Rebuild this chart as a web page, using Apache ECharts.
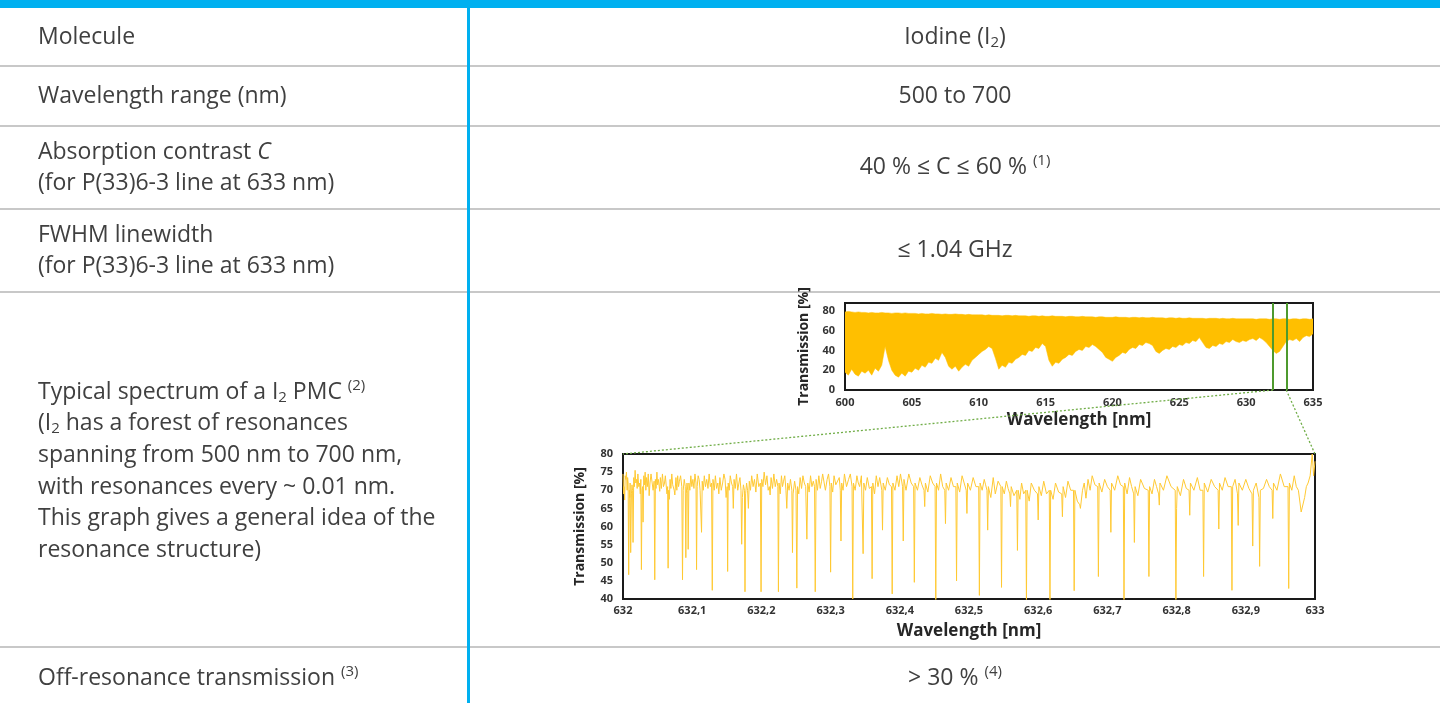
<!DOCTYPE html>
<html><head><meta charset="utf-8">
<script src="https://cdn.jsdelivr.net/npm/echarts@6/dist/echarts.min.js"></script>
<style>html,body{margin:0;padding:0;background:#fff}#c{width:1440px;height:703px}</style>
</head><body><div id="c"></div>
<script>
// ---------- DATA ----------
// Overview spectrum 600-635 nm: lower and upper envelope of the dense resonance forest (%)
const overviewWavelengths = [
  600,600.25,600.5,600.75,601,601.25,601.5,601.75,602,602.25,
  602.5,602.75,603,603.25,603.5,603.75,604,604.25,604.5,604.75,
  605,605.25,605.5,605.75,606,606.25,606.5,606.75,607,607.25,
  607.5,607.75,608,608.25,608.5,608.75,609,609.25,609.5,609.75,
  610,610.25,610.5,610.75,611,611.25,611.5,611.75,612,612.25,
  612.5,612.75,613,613.25,613.5,613.75,614,614.25,614.5,614.75,
  615,615.25,615.5,615.75,616,616.25,616.5,616.75,617,617.25,
  617.5,617.75,618,618.25,618.5,618.75,619,619.25,619.5,619.75,
  620,620.25,620.5,620.75,621,621.25,621.5,621.75,622,622.25,
  622.5,622.75,623,623.25,623.5,623.75,624,624.25,624.5,624.75,
  625,625.25,625.5,625.75,626,626.25,626.5,626.75,627,627.25,
  627.5,627.75,628,628.25,628.5,628.75,629,629.25,629.5,629.75,
  630,630.25,630.5,630.75,631,631.25,631.5,631.75,632,632.25,
  632.5,632.75,633,633.25,633.5,633.75,634,634.25,634.5,634.75,
  635];
const overviewLower = [
  18,15,21,16,14,19,17,20,15,22,
  19,25,44,30,20,15,13,17,14,19,
  18,22,20,25,23,28,27,32,30,38,
  33,24,21,24,19,23,26,24,30,33,
  36,39,41,44,42,32,21,25,23,28,
  27,31,33,36,35,40,39,43,42,47,
  44,30,24,28,27,31,33,36,35,39,
  41,40,44,43,46,44,41,38,33,31,
  29,33,35,38,37,41,43,42,46,45,
  48,47,45,39,37,40,42,41,44,43,
  46,45,48,47,50,49,53,48,43,42,
  45,44,47,46,49,48,51,49,48,50,
  49,51,52,50,53,51,48,44,40,37,
  39,44,49,51,50,52,49,53,55,54,
  57];
const overviewUpper = [
  79,79.5,79,78.5,79,78.5,78.5,78,78.5,78,
  78,78.5,78,78,77.5,78,78,77.5,78,77.5,
  77.5,77.5,77,77.5,77,77,77.5,77,77,76.5,
  77,76.5,76.5,77,76.5,76.5,76,76.5,76,76,
  76,76,75.5,76,75.5,75.5,75.5,75,75.5,75.5,
  75,75.5,75,75,75,74.5,75,75,74.5,75,
  74.5,74.5,75,74.5,74.5,74.5,74,74.5,74.5,74,
  74,74.5,74,74,74,73.5,74,74,73.5,73.5,
  73.5,74,73.5,73.5,73.5,73,73.5,73.5,73,73.5,
  73,73,73.5,73,73,73,72.5,73,73,72.5,
  73,72.5,72.5,73,72.5,72.5,72.5,72.5,72,72.5,
  72.5,72.5,72,72.5,72,72,72.5,72,72,72,
  72,72,72,71.5,72,72,72,71.5,72,72,
  71.5,72,72,71.5,72,72,71.5,72,72,71.5,
  72];
// zoomed window marked on overview (nm)
const zoomWindow = [632, 633];
// Detailed transmission 632-633 nm: [wavelength nm, transmission %]
const zoomSpectrum = [
[632.0000,74.5],[632.0008,69],[632.0015,71],[632.0024,67.3],[632.0032,74],[632.0040,73],[632.0050,75],[632.0060,70],[632.0067,73.5],[632.0074,72],[632.0082,46.7],[632.0092,70],[632.0098,68],[632.0103,72],[632.0111,52.8],[632.0122,69],[632.0130,71.5],[632.0138,70],[632.0145,55.6],[632.0155,73.5],[632.0165,71],[632.0175,75.5],[632.0185,72],[632.0195,73],[632.0205,70.5],[632.0215,74.5],[632.0228,71],[632.0240,72],[632.0250,69],[632.0258,73],[632.0266,48.1],[632.0275,70],[632.0283,71],[632.0290,61.2],[632.0300,74],[632.0310,71.5],[632.0320,75],[632.0330,70],[632.0340,73.5],[632.0352,71],[632.0365,74.5],[632.0378,68.5],[632.0390,72],[632.0405,74.5],[632.0420,74],[632.0435,70],[632.0450,72.5],[632.0459,45.3],[632.0468,73],[632.0478,70.5],[632.0490,75],[632.0500,71.5],[632.0510,73],[632.0524,71],[632.0531,69.7],[632.0540,73.5],[632.0555,70.5],[632.0570,74.5],[632.0585,71],[632.0600,72],[632.0612,74],[632.0625,73.5],[632.0635,69],[632.0645,71],[632.0652,48.5],[632.0660,70],[632.0670,67.5],[632.0680,73],[632.0692,70.5],[632.0705,74.5],[632.0718,71.5],[632.0730,72],[632.0740,70],[632.0749,68.7],[632.0765,73.5],[632.0778,70],[632.0790,74],[632.0803,71],[632.0815,72.5],[632.0832,74],[632.0850,71],[632.0860,45.3],[632.0870,70],[632.0885,73],[632.0900,71],[632.0908,51.4],[632.0915,69],[632.0925,72],[632.0935,70],[632.0942,53.7],[632.0952,72],[632.0966,70],[632.0980,74],[632.0995,71],[632.1010,73],[632.1025,70.5],[632.1040,74.5],[632.1055,72],[632.1063,48.1],[632.1072,71],[632.1086,74],[632.1100,73],[632.1114,70],[632.1128,70],[632.1135,58.4],[632.1145,72.5],[632.1160,70],[632.1175,74],[632.1192,71],[632.1210,73],[632.1228,70.5],[632.1245,74.5],[632.1262,71],[632.1280,72],[632.1290,42.4],[632.1300,73],[632.1318,70],[632.1335,74],[632.1352,70.5],[632.1370,72],[632.1385,69],[632.1400,73.5],[632.1420,70],[632.1440,72],[632.1458,74.5],[632.1475,73],[632.1490,68],[632.1505,71],[632.1512,47.6],[632.1520,72],[632.1535,70],[632.1550,74],[632.1568,72],[632.1585,71],[632.1594,65],[632.1605,73],[632.1622,70.5],[632.1640,74.5],[632.1658,70],[632.1675,72],[632.1690,73.5],[632.1705,70],[632.1715,55.1],[632.1725,68],[632.1740,71.5],[632.1755,70],[632.1763,42],[632.1772,69],[632.1786,72],[632.1800,70],[632.1812,65],[632.1825,72.5],[632.1842,70],[632.1860,74],[632.1880,71],[632.1900,73],[632.1920,69.5],[632.1940,74.5],[632.1962,71],[632.1985,72],[632.1995,42],[632.2005,73],[632.2022,71],[632.2040,75],[632.2060,71.5],[632.2080,74],[632.2098,70],[632.2115,71],[632.2126,68.7],[632.2140,73.5],[632.2160,70.5],[632.2180,74.5],[632.2200,71],[632.2220,73],[632.2238,71],[632.2246,42],[632.2255,72],[632.2272,69],[632.2290,74],[632.2305,71],[632.2320,72.5],[632.2338,74],[632.2355,70],[632.2367,65],[632.2380,72],[632.2400,70],[632.2420,73],[632.2440,70],[632.2449,52.8],[632.2458,69],[632.2480,72.5],[632.2500,70],[632.2512,43],[632.2522,71],[632.2540,69],[632.2560,73.5],[632.2580,70.5],[632.2600,74],[632.2620,72],[632.2640,71],[632.2657,56.5],[632.2670,72],[632.2690,69.5],[632.2710,74],[632.2730,71],[632.2750,72.5],[632.2768,71],[632.2778,42],[632.2790,73],[632.2810,70],[632.2830,74],[632.2850,70.5],[632.2870,72.5],[632.2885,74.5],[632.2900,74],[632.2925,70],[632.2950,73],[632.2970,74.5],[632.2990,71],[632.3000,47.4],[632.3010,72],[632.3030,69.5],[632.3050,74],[632.3075,71.5],[632.3100,71],[632.3125,73.5],[632.3140,70],[632.3150,56],[632.3160,72],[632.3180,70],[632.3200,74.5],[632.3230,71],[632.3260,73],[632.3285,74.5],[632.3310,71],[632.3320,40],[632.3330,72],[632.3355,70],[632.3380,74],[632.3400,72],[632.3420,71],[632.3445,74],[632.3470,52.5],[632.3480,72],[632.3505,70],[632.3530,73.5],[632.3560,70.5],[632.3590,71],[632.3600,45.6],[632.3610,72],[632.3635,69],[632.3660,74],[632.3685,71],[632.3710,73.5],[632.3740,70],[632.3750,59],[632.3760,72],[632.3790,70],[632.3820,73.5],[632.3850,71.5],[632.3880,71],[632.3890,41.4],[632.3900,72],[632.3930,70],[632.3960,74],[632.3985,71],[632.4010,74.5],[632.4040,71],[632.4050,56],[632.4060,73],[632.4090,70],[632.4130,74.5],[632.4165,72],[632.4200,71],[632.4210,44.6],[632.4220,72],[632.4255,70],[632.4290,73.5],[632.4320,71.5],[632.4350,70],[632.4360,65.5],[632.4370,72],[632.4405,69.5],[632.4440,74],[632.4475,72],[632.4510,71],[632.4520,39],[632.4530,72],[632.4560,70],[632.4590,74.5],[632.4620,71],[632.4650,70],[632.4660,60.8],[632.4670,72],[632.4705,70],[632.4740,73.5],[632.4775,71],[632.4810,71],[632.4820,45],[632.4830,72],[632.4865,69.5],[632.4900,74],[632.4930,72],[632.4960,70],[632.4970,63.6],[632.4980,72],[632.5020,70],[632.5060,73.5],[632.5100,71],[632.5140,71],[632.5150,41],[632.5160,72],[632.5190,70],[632.5220,73],[632.5240,71.5],[632.5260,70],[632.5270,59],[632.5280,71],[632.5315,68],[632.5350,73.5],[632.5380,69],[632.5420,72.5],[632.5460,71],[632.5470,43.2],[632.5480,71],[632.5510,69],[632.5540,72.5],[632.5565,70.5],[632.5590,69],[632.5600,65.5],[632.5610,71],[632.5650,68.5],[632.5690,70],[632.5700,53.4],[632.5710,70],[632.5735,67.5],[632.5760,72],[632.5790,69],[632.5820,70],[632.5830,39],[632.5840,70],[632.5870,67],[632.5900,72],[632.5945,70],[632.5990,69],[632.6000,61.8],[632.6010,71],[632.6045,68.5],[632.6080,72.5],[632.6120,69],[632.6160,70],[632.6170,39],[632.6180,70],[632.6215,67.5],[632.6250,72],[632.6295,69.5],[632.6340,69],[632.6350,62.7],[632.6360,71],[632.6395,68],[632.6430,72.5],[632.6470,70],[632.6510,70],[632.6520,42.3],[632.6530,70],[632.6565,67],[632.6600,66],[632.6610,65],[632.6640,70],[632.6665,72],[632.6690,67.8],[632.6720,73],[632.6750,70],[632.6780,74],[632.6820,71.5],[632.6860,71],[632.6870,46.2],[632.6880,72],[632.6920,69.5],[632.6960,73],[632.7000,71],[632.7040,70],[632.7050,58.4],[632.7060,72],[632.7105,70],[632.7150,74],[632.7190,71.5],[632.7230,71],[632.7240,39],[632.7250,72],[632.7285,69],[632.7320,73.5],[632.7350,71],[632.7380,69],[632.7390,55.6],[632.7400,71],[632.7440,68.5],[632.7480,73],[632.7535,70.5],[632.7590,70],[632.7600,46.2],[632.7610,71],[632.7645,69],[632.7680,73],[632.7710,71],[632.7740,69],[632.7750,65.9],[632.7760,72],[632.7810,70],[632.7860,74],[632.7920,71],[632.7980,70],[632.7990,39],[632.8000,65],[632.8010,71],[632.8055,68.5],[632.8100,73],[632.8140,70.5],[632.8180,70],[632.8190,63.1],[632.8200,72],[632.8250,70],[632.8300,73.5],[632.8340,70],[632.8380,70],[632.8390,46.2],[632.8400,72],[632.8450,69.5],[632.8500,73],[632.8550,71],[632.8600,70],[632.8610,59.3],[632.8620,72],[632.8660,70],[632.8700,73.5],[632.8745,71],[632.8790,71],[632.8800,42.4],[632.8810,71],[632.8845,73],[632.8880,69],[632.8890,60.3],[632.8900,72],[632.8950,70],[632.9000,73],[632.9045,70.5],[632.9090,69],[632.9100,54.6],[632.9110,70],[632.9150,72],[632.9190,68],[632.9200,49],[632.9210,70],[632.9255,70.5],[632.9300,73],[632.9340,71],[632.9380,70],[632.9390,62.2],[632.9400,72],[632.9450,70],[632.9500,74.5],[632.9555,71],[632.9610,71],[632.9620,42.9],[632.9630,72],[632.9665,70],[632.9700,74],[632.9730,71],[632.9760,70],[632.9800,64],[632.9810,63.6],[632.9850,68],[632.9875,71],[632.9900,72],[632.9930,74],[632.9960,80],[632.9980,74],[633.0000,78]];

// ---------- RENDER ----------
const FONT = '"Open Sans", "DejaVu Sans", sans-serif';
const TXT = '#404040';
const AX = '#333333';
const BLUE = '#00B0F0';
const FS = 23;

const chart = echarts.init(document.getElementById('c'), null, {renderer: 'canvas'});

const axLabel = {fontSize: 11, fontWeight: 'bold', color: AX, fontFamily: FONT};
const xName = {fontSize: 17, fontWeight: 'bold', color: '#262626', fontFamily: FONT};
const yName = {fontSize: 14, fontWeight: 'bold', color: '#262626', fontFamily: FONT};
const comma = v => String(+(+v).toFixed(1)).replace('.', ',');

chart.setOption({
  animation: false,
  backgroundColor: '#ffffff',
  grid: [
    {left: 845, top: 303, width: 468, height: 87, show: true, borderColor: '#1a1a1a', borderWidth: 2, backgroundColor: 'transparent'},
    {left: 623, top: 454, width: 692, height: 145, show: true, borderColor: '#1a1a1a', borderWidth: 2, backgroundColor: 'transparent'}
  ],
  xAxis: [
    {gridIndex: 0, type: 'value', min: 600, max: 635, interval: 5,
     axisLine: {show: false}, axisTick: {show: false}, splitLine: {show: false},
     axisLabel: Object.assign({margin: 7}, axLabel),
     name: 'Wavelength [nm]', nameLocation: 'middle', nameGap: 22, nameTextStyle: xName},
    {gridIndex: 1, type: 'value', min: 632, max: 633, interval: 0.1,
     axisLine: {show: false}, axisTick: {show: false}, splitLine: {show: false},
     axisLabel: Object.assign({margin: 6, formatter: comma}, axLabel),
     name: 'Wavelength [nm]', nameLocation: 'middle', nameGap: 24, nameTextStyle: xName}
  ],
  yAxis: [
    {gridIndex: 0, type: 'value', min: 0, max: 88, interval: 20,
     axisLine: {show: false}, axisTick: {show: false}, splitLine: {show: false},
     axisLabel: Object.assign({margin: 10, showMaxLabel: false}, axLabel),
     name: 'Transmission [%]', nameLocation: 'middle', nameGap: 34, nameTextStyle: yName},
    {gridIndex: 1, type: 'value', min: 40, max: 80, interval: 5,
     axisLine: {show: false}, axisTick: {show: false}, splitLine: {show: false},
     axisLabel: Object.assign({margin: 10}, axLabel),
     name: 'Transmission [%]', nameLocation: 'middle', nameGap: 36, nameTextStyle: yName}
  ],
  series: [
    {type: 'custom', xAxisIndex: 0, yAxisIndex: 0, silent: true, clip: true,
     data: overviewWavelengths.map((w, i) => [w, overviewLower[i], overviewUpper[i]]),
     encode: {x: 0, y: [1, 2]},
     renderItem: function (params, api) {
       if (params.dataIndex !== 0) return null;
       const top = overviewWavelengths.map((w, i) => api.coord([w, overviewUpper[i]]));
       const bot = overviewWavelengths.map((w, i) => api.coord([w, overviewLower[i]])).reverse();
       return {type: 'polygon', shape: {points: top.concat(bot)}, style: {fill: '#FFBF00', stroke: '#FFBF00', lineWidth: 0.5}};
     },
     markLine: {silent: true, symbol: ['none', 'none'], label: {show: false},
       lineStyle: {color: '#4E9A2E', width: 2, type: 'solid'},
       data: zoomWindow.map(v => ({xAxis: v}))}},
    {type: 'line', xAxisIndex: 1, yAxisIndex: 1, data: zoomSpectrum,
     symbol: 'none', silent: true, lineStyle: {color: '#FFC933', width: 1}}
  ]
});

// connectors from overview window to zoomed chart
const p1 = chart.convertToPixel({gridIndex: 0}, [zoomWindow[0], 0]);
const p2 = chart.convertToPixel({gridIndex: 0}, [zoomWindow[1], 0]);
const q1 = chart.convertToPixel({gridIndex: 1}, [zoomWindow[0], 80]);
const q2 = chart.convertToPixel({gridIndex: 1}, [zoomWindow[1], 80]);

function txt(x, y, text, align, rich) {
  return {type: 'text', x: x, y: y, silent: true, style: {
    text: text, fill: TXT, fontSize: FS, fontFamily: FONT,
    align: align || 'left', verticalAlign: 'middle', rich: rich || {}}};
}
const rich = {
  sub: {fontSize: 15, fill: TXT, fontFamily: FONT, padding: [12, 0, 0, 0]},
  sup: {fontSize: 15, fill: TXT, fontFamily: FONT, padding: [0, 0, 12, 0]},
  it: {fontSize: FS, fill: TXT, fontFamily: FONT, fontStyle: 'italic'}
};
const LX = 38, RX = 955;
const sep = y => ({type: 'line', silent: true, shape: {x1: 0, y1: y, x2: 1440, y2: y}, style: {stroke: '#C8C8C8', lineWidth: 2}});

chart.setOption({graphic: [
  {type: 'rect', silent: true, shape: {x: 0, y: 0, width: 1440, height: 8}, style: {fill: BLUE}},
  sep(66), sep(126), sep(209), sep(292), sep(647),
  {type: 'rect', silent: true, shape: {x: 467, y: 8, width: 3, height: 700}, style: {fill: BLUE}},
  txt(LX, 37, 'Molecule'),
  txt(RX, 37, 'Iodine (I{sub|2})', 'center', rich),
  txt(LX, 96, 'Wavelength range (nm)'),
  txt(RX, 96, '500 to 700', 'center'),
  txt(LX, 152, 'Absorption contrast {it|C}', 'left', rich),
  txt(LX, 183, '(for P(33)6-3 line at 633 nm)'),
  txt(RX, 167, '40 % ≤ C ≤ 60 % {sup|(1)}', 'center', rich),
  txt(LX, 235, 'FWHM linewidth'),
  txt(LX, 266, '(for P(33)6-3 line at 633 nm)'),
  txt(RX, 250, '≤ 1.04 GHz', 'center'),
  txt(LX, 392, 'Typical spectrum of a I{sub|2} PMC {sup|(2)}', 'left', rich),
  txt(LX, 423, '(I{sub|2} has a forest of resonances', 'left', rich),
  txt(LX, 455, 'spanning from 500 nm to 700 nm,'),
  txt(LX, 487, 'with resonances every ~ 0.01 nm.'),
  txt(LX, 518, 'This graph gives a general idea of the'),
  txt(LX, 550, 'resonance structure)'),
  txt(LX, 678, 'Off-resonance transmission {sup|(3)}', 'left', rich),
  txt(RX, 678, '> 30 % {sup|(4)}', 'center', rich),
  {type: 'line', silent: true, z: 10, shape: {x1: p1[0], y1: p1[1], x2: q1[0], y2: q1[1]},
   style: {stroke: '#70AD47', lineWidth: 1.3, lineDash: [2, 2]}},
  {type: 'line', silent: true, z: 10, shape: {x1: p2[0], y1: p2[1], x2: q2[0], y2: q2[1]},
   style: {stroke: '#70AD47', lineWidth: 1.3, lineDash: [2, 2]}}
]});
</script></body></html>
